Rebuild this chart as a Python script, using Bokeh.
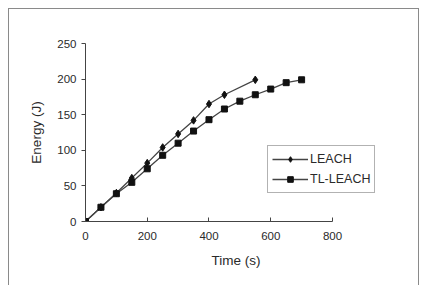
from bokeh.plotting import figure
from bokeh.models import Range1d, Legend
from bokeh.embed import file_html
from bokeh.resources import INLINE

leach_t = [0, 50, 100, 150, 200, 250, 300, 350, 400, 450, 550]
leach_e = [0, 20, 40, 61, 82, 104, 123, 142, 165, 178, 199]
tl_t = [0, 50, 100, 150, 200, 250, 300, 350, 400, 450, 500, 550, 600, 650, 700]
tl_e = [0, 20, 39, 55, 74, 93, 110, 127, 143, 158, 169, 178, 186, 195, 199]
x_ticks = [0, 200, 400, 600, 800]
y_ticks = [0, 50, 100, 150, 200, 250]

FONT = "Liberation Sans"
TXT = "#2a2a2a"

p = figure(width=411, height=277, output_backend="svg", toolbar_location=None,
           x_range=Range1d(0, 975), y_range=Range1d(0, 250),
           min_border_left=76, min_border_right=34, min_border_top=34, min_border_bottom=65)
p.margin = (8, 0, 0, 8)
p.styles = {"border-top": "1px solid #8a8a8a", "border-left": "1px solid #8a8a8a",
            "border-right": "1px solid #8a8a8a"}
p.outline_line_color = None
p.xgrid.visible = False
p.ygrid.visible = False

r1l = p.line(leach_t, leach_e, line_color="#444444", line_width=1.3)
r1s = p.scatter(leach_t, leach_e, marker="diamond", size=7.5, color="#111111")
r2l = p.line(tl_t, tl_e, line_color="#444444", line_width=1.3)
r2s = p.scatter(tl_t, tl_e, marker="square", size=6, color="#111111")

legend = Legend(items=[("LEACH", [r1l, r1s]), ("TL-LEACH", [r2l, r2s])],
                location=(182, 28), border_line_color="#666666", border_line_width=1,
                label_text_font=FONT, label_text_font_size="12.5px", label_text_color=TXT,
                glyph_width=36, glyph_height=14, label_height=18, label_standoff=2,
                spacing=2, padding=4, margin=0, background_fill_alpha=1)
p.add_layout(legend, "center")

for ax in (p.xaxis[0], p.yaxis[0]):
    ax.axis_line_color = "#444444"
    ax.major_tick_line_color = "#444444"
    ax.minor_tick_line_color = None
    ax.major_label_text_font = FONT
    ax.major_label_text_font_size = "11.5px"
    ax.major_label_text_color = TXT
    ax.axis_label_text_font = FONT
    ax.axis_label_text_font_size = "13.5px"
    ax.axis_label_text_font_style = "normal"
    ax.axis_label_text_color = TXT

p.xaxis.ticker = x_ticks
p.yaxis.ticker = y_ticks
p.xaxis.bounds = (x_ticks[0], x_ticks[-1])
p.xaxis.axis_label = "Time (s)"
p.yaxis.axis_label = "Energy (J)"
p.xaxis.major_tick_in = 4
p.xaxis.major_tick_out = 0
p.xaxis.major_label_standoff = 10
p.xaxis.axis_label_standoff = 10
p.yaxis.major_tick_in = 0
p.yaxis.major_tick_out = 4
p.yaxis.major_label_standoff = 5
p.yaxis.axis_label_standoff = 10

open("out.html", "w").write(file_html(p, INLINE))
